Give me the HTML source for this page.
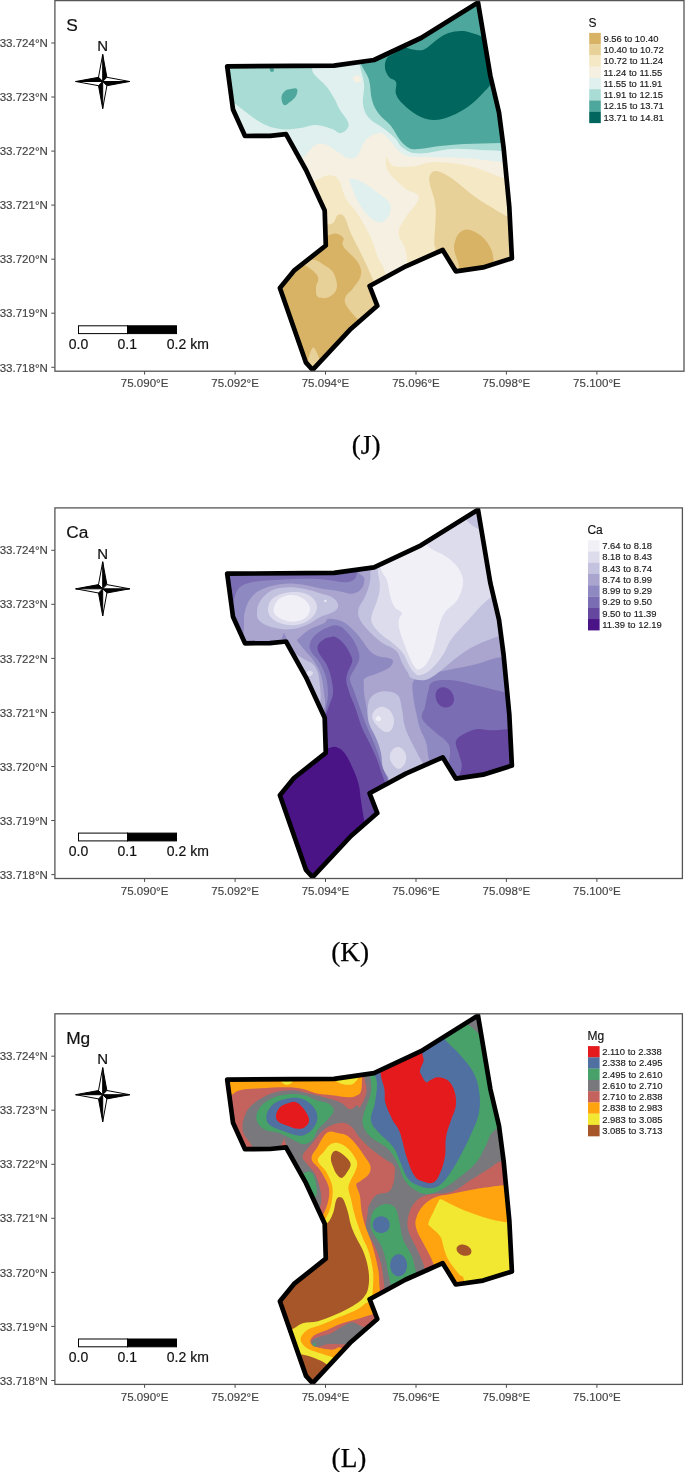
<!DOCTYPE html>
<html><head><meta charset="utf-8"><title>Maps</title>
<style>
html,body{margin:0;padding:0;background:#fff;}
svg{display:block;}
text{font-family:"Liberation Sans",sans-serif;}
.ax{font-size:11.55px;fill:#444;stroke:#444;stroke-width:0.15px;}
.tt{font-size:17.3px;fill:#111;stroke:#111;stroke-width:0.2px;}
.nn{font-size:15px;fill:#111;stroke:#111;stroke-width:0.2px;}
.sb{font-size:14px;fill:#111;stroke:#111;stroke-width:0.2px;}
.lt{font-size:12px;fill:#111;stroke:#111;stroke-width:0.15px;}
.ll{font-size:9.45px;fill:#1a1a1a;stroke:#1a1a1a;stroke-width:0.15px;}
.cap{font-family:"Liberation Serif",serif;font-size:27.3px;fill:#000;stroke:#000;stroke-width:0.25px;}
</style></head><body>
<svg width="685" height="1472" viewBox="0 0 685 1472">
<defs><clipPath id="clip"><path d="M227.2 66.4 L334.0 65.6 L374.0 60.0 L421.0 38.0 L478.0 2.4 L490.4 76.0 L499.0 112.5 L503.6 147.6 L509.3 207.0 L511.9 258.3 L483.0 267.4 L455.8 271.3 L442.7 250.0 L405.8 266.3 L369.6 286.0 L377.3 305.8 L351.0 328.7 L312.6 369.9 L306.0 362.7 L279.9 288.0 L294.0 270.7 L325.8 245.5 L324.7 210.5 L306.0 170.0 L286.0 134.2 L270.0 135.8 L245.0 136.0 L233.0 109.5Z"/></clipPath><clipPath id="pclip"><rect x="54.7" y="0.6" width="628.7" height="370.6"/></clipPath></defs>
<rect width="685" height="1472" fill="#fff"/>
<g transform="translate(0,0.0)"><g clip-path="url(#clip)"><path d="M150 -20H560V400H150Z" fill="#F5F0E2"/><path d="M296.0 159.0 C297.5 158.6 300.7 159.4 304.0 157.0 C307.3 154.6 310.3 148.4 314.0 146.0 C317.7 143.6 319.6 142.9 324.0 144.0 C328.4 145.1 333.6 149.4 338.0 152.0 C342.4 154.6 344.5 157.3 348.0 158.0 C351.5 158.7 353.6 159.5 357.0 156.0 C360.4 152.5 362.1 143.2 366.5 139.0 C370.9 134.8 376.7 132.7 381.0 133.0 C385.3 133.3 385.7 136.5 390.0 140.5 C394.3 144.5 397.6 152.0 404.6 155.0 C411.6 158.0 417.1 156.4 428.0 157.0 C438.9 157.6 450.4 157.1 464.0 158.0 C477.6 158.9 490.8 160.9 502.0 162.0 C513.2 163.1 520.8 163.6 525.0 164.0 L540.0 -20.0 L180.0 -20.0 L180.0 159.0Z" fill="#E0F0EE"/><path d="M353.0 78.0 C353.4 76.7 355.5 75.0 357.0 75.0 C358.5 75.0 360.4 76.7 361.0 78.0 C361.6 79.3 361.1 81.3 360.0 82.0 C358.9 82.7 356.3 82.7 355.0 82.0 C353.7 81.3 352.6 79.3 353.0 78.0Z" fill="#F5F0E2"/><path d="M350.0 178.8 C351.8 177.8 356.6 179.2 362.0 182.0 C367.4 184.8 374.5 190.2 379.5 194.0 C384.5 197.8 387.3 199.6 389.3 202.8 C391.3 206.0 391.2 208.4 390.4 211.6 C389.6 214.8 387.6 218.6 385.0 220.4 C382.4 222.2 379.4 222.7 376.0 221.5 C372.6 220.3 369.7 217.6 366.3 213.8 C362.9 210.0 360.2 205.5 357.6 200.7 C355.0 195.9 353.4 191.5 352.0 187.5 C350.6 183.5 348.2 179.8 350.0 178.8Z" fill="#E0F0EE"/><path d="M225.0 97.0 C226.7 98.1 227.6 98.4 234.0 103.0 C240.4 107.6 251.6 117.2 260.0 122.0 C268.4 126.8 272.7 127.9 280.0 129.0 C287.3 130.1 293.4 128.7 300.0 128.0 C306.6 127.3 310.1 124.8 316.0 125.0 C321.9 125.2 327.6 127.5 332.0 129.0 C336.4 130.5 337.2 133.0 340.0 133.0 C342.8 133.0 345.5 131.0 347.0 129.0 C348.5 127.0 349.3 125.5 348.0 122.0 C346.7 118.5 342.6 114.4 340.0 110.0 C337.4 105.6 336.6 102.4 334.0 98.0 C331.4 93.6 329.7 90.4 326.0 86.0 C322.3 81.6 316.6 77.7 314.0 74.0 C311.4 70.3 312.6 69.5 312.0 66.0 C311.4 62.5 311.2 57.0 311.0 55.0 L180.0 40.0 L180.0 97.0Z" fill="#A8DCD5"/><path d="M358.0 55.0 C358.2 56.5 357.9 57.7 359.0 63.0 C360.1 68.3 363.3 76.5 364.0 84.0 C364.7 91.5 362.1 97.8 363.0 104.0 C363.9 110.2 365.3 113.6 369.0 118.0 C372.7 122.4 378.2 124.3 383.0 128.0 C387.8 131.7 391.3 134.3 395.0 138.0 C398.7 141.7 398.6 145.2 403.0 148.0 C407.4 150.8 410.0 153.3 419.0 153.5 C428.0 153.7 440.6 149.6 452.0 149.0 C463.4 148.4 472.0 149.6 481.0 150.0 C490.0 150.4 492.9 150.6 501.0 151.0 C509.1 151.4 520.6 151.8 525.0 152.0 L540.0 -20.0 L358.0 -20.0Z" fill="#A8DCD5"/><path d="M360.0 55.0 C360.2 56.6 359.4 59.4 361.0 64.0 C362.6 68.6 367.0 73.4 369.0 80.0 C371.0 86.6 370.2 93.8 372.0 100.0 C373.8 106.2 375.5 109.2 379.0 114.0 C382.5 118.8 387.1 121.2 391.0 126.0 C394.9 130.8 396.7 136.0 400.0 140.0 C403.3 144.0 405.5 146.3 409.0 148.0 C412.5 149.7 413.3 149.4 419.0 149.0 C424.7 148.6 431.8 146.9 440.0 146.0 C448.2 145.1 453.0 144.6 464.0 144.0 C475.0 143.4 488.8 143.4 500.0 143.0 C511.2 142.6 520.4 142.2 525.0 142.0 L540.0 -20.0 L360.0 -20.0Z" fill="#4EA79D"/><path d="M297.0 89.0 C297.9 90.3 297.3 93.6 296.0 96.0 C294.7 98.4 292.2 100.3 290.0 102.0 C287.8 103.7 285.6 105.9 284.0 105.0 C282.4 104.1 281.3 99.6 281.5 97.0 C281.7 94.4 283.3 92.5 285.0 91.0 C286.7 89.5 288.8 89.4 291.0 89.0 C293.2 88.6 296.1 87.7 297.0 89.0Z" fill="#4EA79D"/><path d="M270.0 68.0 C270.6 67.4 272.9 67.4 273.5 68.0 C274.1 68.6 274.1 70.9 273.5 71.5 C272.9 72.1 271.1 72.1 270.5 71.5 C269.9 70.9 269.4 68.6 270.0 68.0Z" fill="#4EA79D"/><path d="M395.0 53.0 C392.0 54.9 388.8 55.2 387.0 58.0 C385.2 60.8 384.6 64.5 385.0 68.0 C385.4 71.5 387.0 74.4 389.0 77.0 C391.0 79.6 394.7 78.9 396.0 82.0 C397.3 85.1 394.7 90.0 396.0 94.0 C397.3 98.0 399.1 100.2 403.0 104.0 C406.9 107.8 411.5 112.1 417.0 115.0 C422.5 117.9 426.8 119.8 433.0 120.0 C439.2 120.2 444.4 118.6 451.0 116.0 C457.6 113.4 463.1 110.2 469.0 106.0 C474.9 101.8 479.0 97.4 483.0 93.0 C487.0 88.6 489.2 88.0 491.0 82.0 C492.8 76.0 493.9 67.7 493.0 60.0 C492.1 52.3 490.2 45.1 486.0 40.0 C481.8 34.9 475.2 34.0 470.0 32.4 C464.8 30.8 462.3 30.9 457.8 31.2 C453.3 31.5 449.7 32.4 445.5 34.2 C441.3 36.0 438.5 38.6 435.0 41.2 C431.5 43.8 429.2 46.5 426.3 48.2 C423.4 49.9 422.2 50.2 419.3 50.3 C416.4 50.4 413.4 49.5 410.5 49.0 C407.6 48.5 406.3 46.8 403.5 47.5 C400.7 48.2 398.0 51.1 395.0 53.0Z" fill="#01665E"/><path d="M305.0 186.0 C306.6 185.3 310.0 183.9 314.0 182.0 C318.0 180.1 322.6 176.1 327.0 175.5 C331.4 174.9 334.5 174.8 338.0 179.0 C341.5 183.2 342.4 192.1 346.0 198.5 C349.6 204.9 353.0 206.6 357.6 213.8 C362.2 221.0 367.3 230.0 371.0 238.0 C374.7 246.0 375.8 252.4 378.0 257.6 C380.2 262.8 381.2 262.0 383.0 266.5 C384.8 271.0 387.1 279.2 388.0 282.0 L388.0 400.0 L200.0 400.0 L200.0 186.0Z" fill="#F5E8C5"/><path d="M407.0 300.0 C407.0 293.0 407.4 271.6 407.0 262.0 C406.6 252.4 406.1 252.8 404.6 247.5 C403.1 242.2 398.6 238.2 398.6 233.0 C398.6 227.8 400.9 225.5 404.6 219.0 C408.3 212.5 419.0 203.3 419.0 197.6 C419.0 191.9 410.3 192.9 404.6 188.0 C398.9 183.1 391.3 176.7 388.0 171.0 C384.7 165.3 385.8 158.0 386.7 157.0 C387.6 156.0 388.1 163.7 392.7 165.5 C397.3 167.3 403.9 167.2 411.7 166.6 C419.5 166.0 424.6 162.0 435.5 162.0 C446.4 162.0 458.4 163.6 471.0 166.6 C483.6 169.6 493.7 174.9 504.5 178.5 C515.3 182.1 525.3 184.6 530.0 186.0 L530.0 300.0Z" fill="#F5E8C5"/><path d="M435.0 300.0 C435.1 291.0 435.6 261.5 435.5 251.0 C435.4 240.5 434.3 250.9 434.3 242.8 C434.3 234.7 436.4 218.0 435.5 207.0 C434.6 196.0 430.5 189.1 429.6 183.0 C428.7 176.9 429.3 175.9 430.8 173.8 C432.3 171.7 434.1 170.5 438.0 171.4 C441.9 172.3 445.0 173.7 452.0 178.5 C459.0 183.3 468.1 191.9 476.0 197.6 C483.9 203.3 489.1 206.0 495.0 209.5 C500.9 213.0 501.6 213.9 508.0 216.6 C514.4 219.3 526.0 222.6 530.0 224.0 L530.0 300.0Z" fill="#E8D199"/><path d="M318.0 228.0 C319.7 227.4 324.6 225.7 327.4 224.7 C330.2 223.7 331.6 224.3 333.5 222.5 C335.4 220.7 335.9 215.9 337.9 214.9 C339.9 213.9 342.0 213.6 344.4 217.0 C346.8 220.4 347.8 226.5 351.0 233.5 C354.2 240.5 358.0 247.0 362.0 255.4 C366.0 263.8 370.0 272.2 372.9 279.5 C375.8 286.8 377.1 292.2 378.0 295.0 L400.0 400.0 L200.0 400.0 L200.0 228.0Z" fill="#E8D199"/><path d="M460.0 290.0 C459.8 285.7 460.0 273.6 459.0 266.6 C458.0 259.6 455.4 256.4 454.6 252.0 C453.8 247.6 453.7 246.3 454.6 242.8 C455.5 239.3 456.7 235.4 459.3 233.0 C461.9 230.6 464.9 229.2 468.8 229.7 C472.7 230.2 476.8 232.3 480.7 235.6 C484.6 238.9 487.9 242.7 490.3 247.5 C492.7 252.3 492.9 254.0 493.8 261.8 C494.7 269.6 494.8 284.8 495.0 290.0Z" fill="#D8B365"/><path d="M318.0 238.0 C319.7 237.6 324.2 236.5 327.4 235.7 C330.6 234.9 332.8 233.1 335.7 233.5 C338.6 233.9 342.0 235.5 343.4 237.9 C344.8 240.3 340.8 242.2 343.4 246.6 C346.0 251.0 354.4 256.8 357.6 262.0 C360.8 267.2 361.7 270.2 360.9 275.0 C360.1 279.8 356.0 284.0 353.2 288.0 C350.4 292.0 346.7 293.7 345.5 297.0 C344.3 300.3 344.4 301.8 346.6 305.8 C348.8 309.8 353.3 314.8 357.6 318.9 C361.9 323.0 367.7 326.3 370.0 328.0 L370.0 400.0 L200.0 400.0 L200.0 238.0Z" fill="#D8B365"/><path d="M300.0 262.0 C300.8 260.5 309.4 259.2 313.8 259.8 C318.2 260.4 320.4 262.6 324.0 265.0 C327.6 267.4 331.2 268.8 333.5 273.0 C335.8 277.2 337.6 283.6 336.8 288.0 C336.0 292.4 332.4 295.4 329.0 297.0 C325.6 298.6 320.4 298.6 318.0 297.0 C315.6 295.4 316.0 291.7 316.0 288.0 C316.0 284.3 319.2 280.7 318.0 277.0 C316.8 273.3 312.7 270.8 309.4 268.0 C306.1 265.2 299.2 263.5 300.0 262.0Z" fill="#E8D199"/><path d="M308.5 361.0 C307.9 358.2 309.6 354.5 310.5 352.0 C311.4 349.5 312.4 347.5 313.5 347.5 C314.6 347.5 315.5 349.7 316.5 352.0 C317.5 354.3 319.5 357.2 319.0 360.0 C318.5 362.8 315.9 366.8 314.0 367.0 C312.1 367.2 309.1 363.8 308.5 361.0Z" fill="#E8D199"/></g><path d="M227.2 66.4 L334.0 65.6 L374.0 60.0 L421.0 38.0 L478.0 2.4 L490.4 76.0 L499.0 112.5 L503.6 147.6 L509.3 207.0 L511.9 258.3 L483.0 267.4 L455.8 271.3 L442.7 250.0 L405.8 266.3 L369.6 286.0 L377.3 305.8 L351.0 328.7 L312.6 369.9 L306.0 362.7 L279.9 288.0 L294.0 270.7 L325.8 245.5 L324.7 210.5 L306.0 170.0 L286.0 134.2 L270.0 135.8 L245.0 136.0 L233.0 109.5Z" fill="none" stroke="#000" stroke-width="4.7" stroke-linejoin="round" clip-path="url(#pclip)"/><rect x="54.9" y="0.6" width="629.1" height="370.6" fill="none" stroke="#555" stroke-width="1.3"/><line x1="51.3" x2="54.7" y1="43.0" y2="43.0" stroke="#4a4a4a" stroke-width="1"/><text x="47.9" y="47.2" text-anchor="end" class="ax">33.724°N</text><line x1="51.3" x2="54.7" y1="97.0" y2="97.0" stroke="#4a4a4a" stroke-width="1"/><text x="47.9" y="101.2" text-anchor="end" class="ax">33.723°N</text><line x1="51.3" x2="54.7" y1="151.1" y2="151.1" stroke="#4a4a4a" stroke-width="1"/><text x="47.9" y="155.3" text-anchor="end" class="ax">33.722°N</text><line x1="51.3" x2="54.7" y1="205.1" y2="205.1" stroke="#4a4a4a" stroke-width="1"/><text x="47.9" y="209.3" text-anchor="end" class="ax">33.721°N</text><line x1="51.3" x2="54.7" y1="259.2" y2="259.2" stroke="#4a4a4a" stroke-width="1"/><text x="47.9" y="263.4" text-anchor="end" class="ax">33.720°N</text><line x1="51.3" x2="54.7" y1="313.2" y2="313.2" stroke="#4a4a4a" stroke-width="1"/><text x="47.9" y="317.4" text-anchor="end" class="ax">33.719°N</text><line x1="51.3" x2="54.7" y1="367.3" y2="367.3" stroke="#4a4a4a" stroke-width="1"/><text x="47.9" y="371.5" text-anchor="end" class="ax">33.718°N</text><line x1="144.6" x2="144.6" y1="371.2" y2="374.6" stroke="#4a4a4a" stroke-width="1"/><text x="144.6" y="387.4" text-anchor="middle" class="ax">75.090°E</text><line x1="235.1" x2="235.1" y1="371.2" y2="374.6" stroke="#4a4a4a" stroke-width="1"/><text x="235.1" y="387.4" text-anchor="middle" class="ax">75.092°E</text><line x1="325.5" x2="325.5" y1="371.2" y2="374.6" stroke="#4a4a4a" stroke-width="1"/><text x="325.5" y="387.4" text-anchor="middle" class="ax">75.094°E</text><line x1="416.0" x2="416.0" y1="371.2" y2="374.6" stroke="#4a4a4a" stroke-width="1"/><text x="416.0" y="387.4" text-anchor="middle" class="ax">75.096°E</text><line x1="506.4" x2="506.4" y1="371.2" y2="374.6" stroke="#4a4a4a" stroke-width="1"/><text x="506.4" y="387.4" text-anchor="middle" class="ax">75.098°E</text><line x1="596.9" x2="596.9" y1="371.2" y2="374.6" stroke="#4a4a4a" stroke-width="1"/><text x="596.9" y="387.4" text-anchor="middle" class="ax">75.100°E</text><text x="66.2" y="30.6" class="tt">S</text><text x="102.7" y="51.3" text-anchor="middle" class="nn">N</text><path d="M102.70 81.50 L102.70 54.50 L106.90 77.30 Z" fill="#000" stroke="#000" stroke-width="1.0" stroke-linejoin="miter"/><path d="M102.70 81.50 L102.70 54.50 L98.50 77.30 Z" fill="#fff" stroke="#000" stroke-width="1.0" stroke-linejoin="miter"/><path d="M102.70 81.50 L129.70 81.50 L106.90 85.70 Z" fill="#000" stroke="#000" stroke-width="1.0" stroke-linejoin="miter"/><path d="M102.70 81.50 L129.70 81.50 L106.90 77.30 Z" fill="#fff" stroke="#000" stroke-width="1.0" stroke-linejoin="miter"/><path d="M102.70 81.50 L102.70 108.50 L98.50 85.70 Z" fill="#000" stroke="#000" stroke-width="1.0" stroke-linejoin="miter"/><path d="M102.70 81.50 L102.70 108.50 L106.90 85.70 Z" fill="#fff" stroke="#000" stroke-width="1.0" stroke-linejoin="miter"/><path d="M102.70 81.50 L75.70 81.50 L98.50 77.30 Z" fill="#000" stroke="#000" stroke-width="1.0" stroke-linejoin="miter"/><path d="M102.70 81.50 L75.70 81.50 L98.50 85.70 Z" fill="#fff" stroke="#000" stroke-width="1.0" stroke-linejoin="miter"/><rect x="78.5" y="325.8" width="49" height="7.8" fill="#fff" stroke="#000" stroke-width="1"/><rect x="127.5" y="325.8" width="49" height="7.8" fill="#000" stroke="#000" stroke-width="1"/><text x="78.5" y="348.6" text-anchor="middle" class="sb">0.0</text><text x="127.2" y="348.6" text-anchor="middle" class="sb">0.1</text><text x="166.8" y="348.6" class="sb">0.2 km</text><text x="588.6" y="27" class="lt">S</text><rect x="589.2" y="32.90" width="11.6" height="11.4" fill="#D8B365"/><text x="603.4" y="41.90" class="ll">9.56 to 10.40</text><rect x="589.2" y="44.16" width="11.6" height="11.4" fill="#E8D199"/><text x="603.4" y="53.16" class="ll">10.40 to 10.72</text><rect x="589.2" y="55.42" width="11.6" height="11.4" fill="#F5E8C5"/><text x="603.4" y="64.42" class="ll">10.72 to 11.24</text><rect x="589.2" y="66.68" width="11.6" height="11.4" fill="#F5F0E2"/><text x="603.4" y="75.68" class="ll">11.24 to 11.55</text><rect x="589.2" y="77.94" width="11.6" height="11.4" fill="#E0F0EE"/><text x="603.4" y="86.94" class="ll">11.55 to 11.91</text><rect x="589.2" y="89.20" width="11.6" height="11.4" fill="#A8DCD5"/><text x="603.4" y="98.20" class="ll">11.91 to 12.15</text><rect x="589.2" y="100.46" width="11.6" height="11.4" fill="#4EA79D"/><text x="603.4" y="109.46" class="ll">12.15 to 13.71</text><rect x="589.2" y="111.72" width="11.6" height="11.4" fill="#01665E"/><text x="603.4" y="120.72" class="ll">13.71 to 14.81</text><text x="351.7" y="453.6" class="cap">(J)</text></g>
<g transform="translate(0,507.3)"><g clip-path="url(#clip)"><path d="M150 -20H560V400H150Z" fill="#8F89C1"/><path d="M246.0 142.0 C241.6 136.5 244.2 123.0 244.0 116.0 C243.8 109.0 243.9 108.4 245.0 104.0 C246.1 99.6 247.2 95.8 250.0 92.0 C252.8 88.2 254.5 85.8 260.0 83.0 C265.5 80.2 272.7 78.1 280.0 77.0 C287.3 75.9 292.7 76.3 300.0 77.0 C307.3 77.7 312.9 79.7 320.0 81.0 C327.1 82.3 333.1 83.0 339.0 84.0 C344.9 85.0 348.0 86.9 352.0 86.5 C356.0 86.1 358.7 84.7 361.0 82.0 C363.3 79.3 363.8 77.9 364.5 72.0 C365.2 66.1 349.3 68.7 365.0 50.0 C380.7 31.3 417.0 -17.2 450.0 -30.0 C483.0 -42.8 527.6 -53.0 545.0 -20.0 C562.4 13.0 552.9 118.8 545.0 150.0 C537.1 181.2 514.6 148.7 502.0 150.0 C489.4 151.3 485.2 154.8 476.0 157.0 C466.8 159.2 460.8 160.2 452.0 162.0 C443.2 163.8 435.0 165.0 428.0 167.0 C421.0 169.0 416.8 169.2 414.0 173.0 C411.2 176.8 412.5 181.4 413.0 187.6 C413.5 193.8 415.2 200.5 416.5 206.6 C417.8 212.7 418.3 215.8 420.0 221.0 C421.7 226.2 424.5 229.8 426.0 235.0 C427.5 240.2 427.5 243.1 428.4 249.5 C429.3 255.9 434.4 263.5 431.0 270.0 C427.6 276.5 417.0 282.8 410.0 285.0 C403.0 287.2 396.6 285.0 393.0 282.0 C389.4 279.0 392.1 273.4 390.4 268.5 C388.7 263.6 386.1 261.4 383.9 255.4 C381.7 249.4 380.8 242.6 378.4 235.7 C376.0 228.8 373.2 226.0 370.7 218.0 C368.2 210.0 366.3 199.5 365.0 192.0 C363.7 184.5 363.8 180.8 363.8 177.0 C363.8 173.2 362.9 172.9 365.0 171.0 C367.1 169.1 371.2 168.6 375.5 166.8 C379.8 165.0 385.4 163.3 388.6 161.0 C391.8 158.7 393.0 155.9 393.0 154.0 C393.0 152.1 391.3 151.6 388.6 150.7 C385.9 149.8 381.9 150.3 378.4 149.0 C374.9 147.7 372.8 146.6 369.6 143.4 C366.4 140.2 364.2 135.7 361.0 131.7 C357.8 127.7 355.5 124.7 352.0 121.5 C348.5 118.3 346.3 115.8 342.0 114.0 C337.7 112.2 332.1 111.1 328.8 111.5 C325.5 111.9 327.4 114.1 324.0 116.0 C320.6 117.9 314.4 119.4 310.0 122.0 C305.6 124.6 302.8 127.6 300.0 130.0 C297.2 132.4 296.8 132.8 295.0 135.0 C293.2 137.2 294.9 140.0 290.0 142.0 C285.1 144.0 276.1 146.0 268.0 146.0 C259.9 146.0 250.4 147.5 246.0 142.0Z" fill="#A9A5CF"/><path d="M279.0 138.0 L284.0 125.5 L289.0 137.0Z" fill="#8F89C1"/><path d="M296.0 132.0 C297.5 133.8 300.7 138.0 304.0 142.0 C307.3 146.0 310.9 149.2 314.0 154.0 C317.1 158.8 319.2 162.1 321.0 168.0 C322.8 173.9 323.3 180.5 324.0 186.0 C324.7 191.5 325.4 194.0 325.0 198.0 C324.6 202.0 322.6 206.2 322.0 208.0 L280.0 208.0 L280.0 132.0Z" fill="#A9A5CF"/><path d="M257.0 106.0 C257.0 102.3 257.2 98.2 260.0 94.0 C262.8 89.8 266.5 85.6 272.0 83.0 C277.5 80.4 283.8 80.2 290.0 80.0 C296.2 79.8 300.5 80.9 306.0 82.0 C311.5 83.1 315.2 84.5 320.0 86.0 C324.8 87.5 328.7 88.0 332.0 90.0 C335.3 92.0 337.5 94.4 338.0 97.0 C338.5 99.6 337.9 101.6 334.6 104.0 C331.3 106.4 325.2 107.4 320.0 110.0 C314.8 112.6 311.5 115.8 306.0 118.0 C300.5 120.2 296.2 121.6 290.0 122.0 C283.8 122.4 277.5 121.5 272.0 120.0 C266.5 118.5 262.8 116.6 260.0 114.0 C257.2 111.4 257.0 109.7 257.0 106.0Z" fill="#C3C3E0"/><path d="M370.4 50.0 C370.4 52.6 370.5 59.2 370.4 64.0 C370.3 68.8 370.6 71.3 369.6 76.0 C368.6 80.7 367.0 84.8 365.0 89.4 C363.0 94.0 359.7 97.0 358.7 101.0 C357.7 105.0 357.7 107.0 359.4 111.0 C361.1 115.0 364.0 118.7 368.0 123.0 C372.0 127.3 375.9 131.0 381.0 134.7 C386.1 138.4 392.2 139.7 396.0 143.4 C399.8 147.1 399.7 151.0 401.8 155.0 C403.9 159.0 405.7 162.1 407.6 165.0 C409.5 167.9 408.6 169.6 412.0 171.0 C415.4 172.4 420.9 173.8 426.0 172.5 C431.1 171.2 434.3 168.1 440.0 164.0 C445.7 159.9 450.4 154.8 457.0 150.0 C463.6 145.2 468.1 141.9 476.0 138.0 C483.9 134.1 491.0 131.8 500.0 128.5 C509.0 125.2 520.4 121.6 525.0 120.0 L545.0 -20.0 L370.0 -20.0Z" fill="#C3C3E0"/><path d="M367.7 202.0 C368.1 197.2 368.2 193.3 371.0 190.0 C373.8 186.7 378.1 184.4 383.0 184.0 C387.9 183.6 394.0 184.3 397.5 187.6 C401.0 190.9 400.7 196.3 402.0 202.0 C403.3 207.7 403.0 212.8 404.6 218.5 C406.2 224.2 408.1 227.8 410.5 233.0 C412.9 238.2 415.0 240.9 417.7 247.0 C420.4 253.1 427.3 259.6 425.0 266.0 C422.7 272.4 411.4 279.8 405.0 282.0 C398.6 284.2 393.1 280.3 390.0 278.0 C386.9 275.7 389.3 272.7 388.0 269.7 C386.7 266.7 384.3 266.0 383.0 261.4 C381.7 256.8 382.1 250.4 380.8 244.7 C379.5 239.0 378.2 235.8 376.0 230.5 C373.8 225.2 370.5 221.2 369.0 216.0 C367.5 210.8 367.3 206.8 367.7 202.0Z" fill="#C3C3E0"/><path d="M296.0 147.0 C297.8 148.1 302.9 151.2 306.0 153.0 C309.1 154.8 310.8 154.6 313.0 157.0 C315.2 159.4 316.7 161.8 318.0 166.0 C319.3 170.2 319.5 175.1 320.0 180.0 C320.5 184.9 320.9 188.6 320.5 193.0 C320.1 197.4 318.5 202.0 318.0 204.0 L290.0 204.0 L290.0 147.0Z" fill="#C3C3E0"/><path d="M268.0 102.0 C268.0 98.5 269.1 94.9 272.0 92.0 C274.9 89.1 278.9 87.3 284.0 86.0 C289.1 84.7 294.9 84.3 300.0 85.0 C305.1 85.7 308.9 87.2 312.0 90.0 C315.1 92.8 317.0 96.3 317.0 100.0 C317.0 103.7 315.1 106.9 312.0 110.0 C308.9 113.1 305.1 115.7 300.0 117.0 C294.9 118.3 289.1 118.1 284.0 117.0 C278.9 115.9 274.9 113.8 272.0 111.0 C269.1 108.2 268.0 105.5 268.0 102.0Z" fill="#DDDCEC"/><path d="M377.7 45.0 C377.7 48.3 377.3 56.8 377.7 63.0 C378.1 69.2 380.0 73.4 379.9 79.0 C379.8 84.6 378.5 88.5 377.0 93.8 C375.5 99.1 372.6 103.7 371.8 108.0 C371.0 112.3 370.9 113.5 372.6 117.0 C374.3 120.5 377.3 123.5 381.0 127.0 C384.7 130.5 389.0 132.5 393.0 136.0 C397.0 139.5 400.1 142.0 403.0 146.0 C405.9 150.0 407.0 154.5 409.0 158.0 C411.0 161.5 412.0 163.2 414.0 165.0 C416.0 166.8 416.9 168.6 420.0 168.0 C423.1 167.4 426.8 165.8 431.0 162.0 C435.2 158.2 439.1 153.2 443.0 147.5 C446.9 141.8 447.2 137.5 452.0 131.0 C456.8 124.5 462.6 119.0 469.0 112.0 C475.4 105.0 480.8 98.1 487.0 93.0 C493.2 87.9 500.1 85.7 503.0 84.0 L496.0 40.0 L483.0 24.5 L471.0 17.5 L462.0 8.0 L420.0 15.0 L377.7 30.0Z" fill="#DDDCEC"/><path d="M372.5 211.4 C371.4 207.9 372.9 205.2 374.8 203.0 C376.7 200.8 379.9 199.1 383.0 199.5 C386.1 199.9 389.5 202.4 391.5 205.4 C393.5 208.4 394.4 212.5 393.9 216.0 C393.4 219.5 391.4 223.4 389.0 224.5 C386.6 225.6 383.8 224.4 380.8 222.0 C377.8 219.6 373.6 214.9 372.5 211.4Z" fill="#DDDCEC"/><path d="M390.0 251.8 C389.1 248.3 390.9 244.5 392.7 242.3 C394.5 240.1 397.4 239.1 399.8 240.0 C402.2 240.9 404.9 244.0 405.8 247.0 C406.7 250.0 406.1 254.0 404.6 256.6 C403.1 259.2 400.2 262.3 397.5 261.4 C394.8 260.5 390.9 255.3 390.0 251.8Z" fill="#DDDCEC"/><path d="M306.0 166.0 C306.4 165.0 307.7 163.7 309.0 163.5 C310.3 163.3 312.6 164.1 313.0 165.0 C313.4 165.9 312.1 167.8 311.0 168.5 C309.9 169.2 307.9 169.5 307.0 169.0 C306.1 168.5 305.6 167.0 306.0 166.0Z" fill="#DDDCEC"/><path d="M274.0 100.0 C274.9 97.1 276.7 93.3 280.0 91.0 C283.3 88.7 287.6 87.4 292.0 87.6 C296.4 87.8 300.7 89.5 304.0 92.0 C307.3 94.5 309.6 97.7 310.0 101.0 C310.4 104.3 308.9 107.5 306.0 110.0 C303.1 112.5 298.4 114.0 294.0 114.4 C289.6 114.8 285.5 113.4 282.0 112.0 C278.5 110.6 276.5 109.2 275.0 107.0 C273.5 104.8 273.1 102.9 274.0 100.0Z" fill="#F2F0F7"/><path d="M380.5 48.0 C380.6 50.6 379.8 57.4 381.0 62.0 C382.2 66.6 385.4 68.2 387.0 73.0 C388.6 77.8 388.6 83.1 390.0 88.0 C391.4 92.9 392.3 96.4 394.5 99.6 C396.7 102.8 401.0 103.1 401.8 105.5 C402.6 107.9 399.2 109.6 398.8 112.8 C398.4 116.0 398.5 118.5 399.6 123.0 C400.7 127.5 402.7 132.3 404.7 137.6 C406.7 142.9 408.6 147.9 410.5 152.0 C412.4 156.1 413.4 158.2 415.0 160.0 C416.6 161.8 417.0 162.6 419.0 162.0 C421.0 161.4 423.4 160.5 426.0 157.0 C428.6 153.5 430.6 150.0 433.0 143.0 C435.4 136.0 436.8 126.0 439.0 119.0 C441.2 112.0 441.7 109.8 445.0 105.0 C448.3 100.2 453.7 98.3 457.0 93.0 C460.3 87.7 462.6 81.7 463.0 76.0 C463.4 70.3 461.9 66.8 459.0 62.0 C456.1 57.2 452.7 54.2 447.0 50.0 C441.3 45.8 431.9 43.0 428.0 39.0 C424.1 35.0 426.4 30.0 426.0 28.0 L400.0 33.0Z" fill="#F2F0F7"/><path d="M375.6 211.4 C375.6 210.4 377.4 208.8 378.4 208.8 C379.4 208.8 381.2 210.4 381.2 211.4 C381.2 212.4 379.4 214.0 378.4 214.0 C377.4 214.0 375.6 212.4 375.6 211.4Z" fill="#F2F0F7"/><path d="M324.2 93.6 C324.2 93.2 325.0 92.4 325.4 92.4 C325.8 92.4 326.6 93.2 326.6 93.6 C326.6 94.0 325.8 94.8 325.4 94.8 C325.0 94.8 324.2 94.0 324.2 93.6Z" fill="#F2F0F7"/><path d="M220.0 102.0 C222.0 101.6 227.7 103.7 231.0 100.0 C234.3 96.3 234.2 86.6 238.0 82.0 C241.8 77.4 244.3 76.7 252.0 75.0 C259.7 73.3 269.4 73.1 280.0 72.5 C290.6 71.9 300.8 71.4 310.0 71.5 C319.2 71.6 323.8 72.4 330.0 73.0 C336.2 73.6 339.7 75.1 344.0 75.0 C348.3 74.9 351.2 74.2 353.6 72.6 C356.0 70.9 356.2 69.4 357.0 66.0 C357.8 62.6 357.8 56.2 358.0 54.0 L220.0 54.0Z" fill="#7A6DB3"/><path d="M318.0 222.0 C319.2 219.2 322.9 211.4 324.5 207.0 C326.1 202.6 325.9 201.8 326.5 198.0 C327.1 194.2 328.1 191.1 328.0 186.0 C327.9 180.9 327.5 175.5 326.0 170.0 C324.5 164.5 322.8 160.8 320.0 156.0 C317.2 151.2 312.8 147.7 311.0 144.0 C309.2 140.3 309.1 139.1 310.0 136.0 C310.9 132.9 312.7 129.9 316.0 127.0 C319.3 124.1 323.8 121.5 328.0 120.0 C332.2 118.5 335.1 117.3 339.0 118.6 C342.9 119.9 345.8 123.3 349.0 127.0 C352.2 130.7 354.6 134.7 356.5 139.0 C358.4 143.3 359.7 146.7 359.4 150.7 C359.1 154.7 356.7 157.3 355.0 161.0 C353.3 164.7 350.4 167.3 350.0 171.0 C349.6 174.7 351.7 177.2 353.0 181.0 C354.3 184.8 354.6 185.2 357.0 192.0 C359.4 198.8 363.0 209.6 366.3 218.0 C369.6 226.4 372.2 230.7 375.0 238.0 C377.8 245.3 379.5 251.6 381.7 257.6 C383.9 263.6 385.1 264.8 387.0 270.7 C388.9 276.6 391.1 286.5 392.0 290.0 L392.0 400.0 L200.0 400.0 L200.0 222.0Z" fill="#7A6DB3"/><path d="M433.0 174.5 C437.4 172.3 444.1 172.4 452.0 173.0 C459.9 173.6 466.4 175.8 476.0 178.0 C485.6 180.2 494.6 182.8 504.5 185.0 C514.4 187.2 525.3 168.9 530.0 190.0 C534.7 211.1 546.5 279.8 530.0 300.0 C513.5 320.2 455.2 306.6 440.0 300.0 C424.8 293.4 445.2 274.1 447.0 264.0 C448.8 253.9 450.0 250.3 450.0 245.0 C450.0 239.7 450.1 239.0 447.0 235.0 C443.9 231.0 437.6 227.4 433.0 223.0 C428.4 218.6 423.5 215.3 422.0 211.0 C420.5 206.7 423.9 204.3 425.0 199.5 C426.1 194.7 426.5 189.6 428.0 185.0 C429.5 180.4 428.6 176.7 433.0 174.5Z" fill="#7A6DB3"/><path d="M316.0 226.0 C317.6 223.0 322.3 214.4 324.7 209.4 C327.1 204.4 327.5 202.8 329.0 198.5 C330.5 194.2 332.6 191.2 333.0 186.0 C333.4 180.8 332.2 175.3 331.0 170.0 C329.8 164.7 328.7 161.4 326.5 157.0 C324.3 152.6 320.6 149.5 319.0 146.0 C317.4 142.5 317.1 140.6 318.0 138.0 C318.9 135.4 321.8 133.5 324.0 132.0 C326.2 130.5 327.8 130.4 330.0 130.0 C332.2 129.6 333.3 128.6 336.0 130.0 C338.7 131.4 342.1 134.3 344.8 137.6 C347.5 140.9 349.4 144.6 350.7 147.8 C352.0 151.0 352.6 151.8 352.0 155.0 C351.4 158.2 348.7 161.5 347.7 165.0 C346.7 168.5 346.1 170.5 346.3 174.0 C346.5 177.5 348.1 181.1 349.0 184.0 C349.9 186.9 349.8 186.9 351.0 190.0 C352.2 193.1 353.4 195.1 355.4 200.7 C357.4 206.3 359.4 214.0 362.0 220.4 C364.6 226.8 366.8 229.7 369.6 235.7 C372.4 241.7 375.1 247.4 377.3 253.0 C379.5 258.6 379.9 261.4 381.7 266.3 C383.5 271.2 386.0 277.5 387.0 280.0 L387.0 400.0 L200.0 400.0 L200.0 226.0Z" fill="#66479F"/><path d="M455.8 235.0 C456.3 231.5 458.0 230.4 461.7 228.0 C465.4 225.6 470.8 222.9 476.0 222.0 C481.2 221.1 483.9 223.0 490.0 223.0 C496.1 223.0 501.7 222.4 509.0 222.0 C516.3 221.6 526.1 206.7 530.0 221.0 C533.9 235.3 543.8 285.5 530.0 300.0 C516.2 314.5 468.2 304.8 455.0 300.0 C441.8 295.2 456.8 281.5 458.0 274.0 C459.2 266.5 461.5 263.9 461.7 259.0 C461.9 254.1 460.1 251.4 459.0 247.0 C457.9 242.6 455.3 238.5 455.8 235.0Z" fill="#66479F"/><path d="M435.5 188.0 C435.5 185.4 436.4 183.5 438.0 182.0 C439.6 180.5 441.6 179.6 444.0 180.0 C446.4 180.4 449.2 181.8 451.0 184.0 C452.8 186.2 454.0 189.3 454.0 192.0 C454.0 194.7 452.8 197.0 451.0 198.5 C449.2 200.0 446.4 200.5 444.0 200.0 C441.6 199.5 439.6 198.2 438.0 196.0 C436.4 193.8 435.5 190.6 435.5 188.0Z" fill="#66479F"/><path d="M318.0 243.0 C319.7 242.6 324.2 241.6 327.4 241.0 C330.6 240.4 332.6 238.8 335.7 239.6 C338.8 240.4 341.2 241.4 344.4 245.5 C347.6 249.6 350.6 256.2 353.2 262.0 C355.8 267.8 357.3 271.7 358.7 277.3 C360.1 282.9 359.9 286.2 360.9 292.6 C361.9 299.0 362.9 306.2 364.0 312.0 C365.1 317.8 366.4 321.8 367.0 324.0 L367.0 400.0 L200.0 400.0 L200.0 243.0Z" fill="#4A1486"/></g><path d="M227.2 66.4 L334.0 65.6 L374.0 60.0 L421.0 38.0 L478.0 2.4 L490.4 76.0 L499.0 112.5 L503.6 147.6 L509.3 207.0 L511.9 258.3 L483.0 267.4 L455.8 271.3 L442.7 250.0 L405.8 266.3 L369.6 286.0 L377.3 305.8 L351.0 328.7 L312.6 369.9 L306.0 362.7 L279.9 288.0 L294.0 270.7 L325.8 245.5 L324.7 210.5 L306.0 170.0 L286.0 134.2 L270.0 135.8 L245.0 136.0 L233.0 109.5Z" fill="none" stroke="#000" stroke-width="4.7" stroke-linejoin="round" clip-path="url(#pclip)"/><rect x="54.9" y="0.6" width="627.5" height="370.6" fill="none" stroke="#555" stroke-width="1.3"/><line x1="51.3" x2="54.7" y1="43.0" y2="43.0" stroke="#4a4a4a" stroke-width="1"/><text x="47.9" y="47.2" text-anchor="end" class="ax">33.724°N</text><line x1="51.3" x2="54.7" y1="97.0" y2="97.0" stroke="#4a4a4a" stroke-width="1"/><text x="47.9" y="101.2" text-anchor="end" class="ax">33.723°N</text><line x1="51.3" x2="54.7" y1="151.1" y2="151.1" stroke="#4a4a4a" stroke-width="1"/><text x="47.9" y="155.3" text-anchor="end" class="ax">33.722°N</text><line x1="51.3" x2="54.7" y1="205.1" y2="205.1" stroke="#4a4a4a" stroke-width="1"/><text x="47.9" y="209.3" text-anchor="end" class="ax">33.721°N</text><line x1="51.3" x2="54.7" y1="259.2" y2="259.2" stroke="#4a4a4a" stroke-width="1"/><text x="47.9" y="263.4" text-anchor="end" class="ax">33.720°N</text><line x1="51.3" x2="54.7" y1="313.2" y2="313.2" stroke="#4a4a4a" stroke-width="1"/><text x="47.9" y="317.4" text-anchor="end" class="ax">33.719°N</text><line x1="51.3" x2="54.7" y1="367.3" y2="367.3" stroke="#4a4a4a" stroke-width="1"/><text x="47.9" y="371.5" text-anchor="end" class="ax">33.718°N</text><line x1="144.6" x2="144.6" y1="371.2" y2="374.6" stroke="#4a4a4a" stroke-width="1"/><text x="144.6" y="387.4" text-anchor="middle" class="ax">75.090°E</text><line x1="235.1" x2="235.1" y1="371.2" y2="374.6" stroke="#4a4a4a" stroke-width="1"/><text x="235.1" y="387.4" text-anchor="middle" class="ax">75.092°E</text><line x1="325.5" x2="325.5" y1="371.2" y2="374.6" stroke="#4a4a4a" stroke-width="1"/><text x="325.5" y="387.4" text-anchor="middle" class="ax">75.094°E</text><line x1="416.0" x2="416.0" y1="371.2" y2="374.6" stroke="#4a4a4a" stroke-width="1"/><text x="416.0" y="387.4" text-anchor="middle" class="ax">75.096°E</text><line x1="506.4" x2="506.4" y1="371.2" y2="374.6" stroke="#4a4a4a" stroke-width="1"/><text x="506.4" y="387.4" text-anchor="middle" class="ax">75.098°E</text><line x1="596.9" x2="596.9" y1="371.2" y2="374.6" stroke="#4a4a4a" stroke-width="1"/><text x="596.9" y="387.4" text-anchor="middle" class="ax">75.100°E</text><text x="66.2" y="30.6" class="tt">Ca</text><text x="102.7" y="51.3" text-anchor="middle" class="nn">N</text><path d="M102.70 81.50 L102.70 54.50 L106.90 77.30 Z" fill="#000" stroke="#000" stroke-width="1.0" stroke-linejoin="miter"/><path d="M102.70 81.50 L102.70 54.50 L98.50 77.30 Z" fill="#fff" stroke="#000" stroke-width="1.0" stroke-linejoin="miter"/><path d="M102.70 81.50 L129.70 81.50 L106.90 85.70 Z" fill="#000" stroke="#000" stroke-width="1.0" stroke-linejoin="miter"/><path d="M102.70 81.50 L129.70 81.50 L106.90 77.30 Z" fill="#fff" stroke="#000" stroke-width="1.0" stroke-linejoin="miter"/><path d="M102.70 81.50 L102.70 108.50 L98.50 85.70 Z" fill="#000" stroke="#000" stroke-width="1.0" stroke-linejoin="miter"/><path d="M102.70 81.50 L102.70 108.50 L106.90 85.70 Z" fill="#fff" stroke="#000" stroke-width="1.0" stroke-linejoin="miter"/><path d="M102.70 81.50 L75.70 81.50 L98.50 77.30 Z" fill="#000" stroke="#000" stroke-width="1.0" stroke-linejoin="miter"/><path d="M102.70 81.50 L75.70 81.50 L98.50 85.70 Z" fill="#fff" stroke="#000" stroke-width="1.0" stroke-linejoin="miter"/><rect x="78.5" y="325.8" width="49" height="7.8" fill="#fff" stroke="#000" stroke-width="1"/><rect x="127.5" y="325.8" width="49" height="7.8" fill="#000" stroke="#000" stroke-width="1"/><text x="78.5" y="348.6" text-anchor="middle" class="sb">0.0</text><text x="127.2" y="348.6" text-anchor="middle" class="sb">0.1</text><text x="166.8" y="348.6" class="sb">0.2 km</text><text x="587.4" y="27" class="lt">Ca</text><rect x="588.0" y="32.90" width="11.6" height="11.4" fill="#F2F0F7"/><text x="602.2" y="41.90" class="ll">7.64 to 8.18</text><rect x="588.0" y="44.16" width="11.6" height="11.4" fill="#DDDCEC"/><text x="602.2" y="53.16" class="ll">8.18 to 8.43</text><rect x="588.0" y="55.42" width="11.6" height="11.4" fill="#C3C3E0"/><text x="602.2" y="64.42" class="ll">8.43 to 8.74</text><rect x="588.0" y="66.68" width="11.6" height="11.4" fill="#A9A5CF"/><text x="602.2" y="75.68" class="ll">8.74 to 8.99</text><rect x="588.0" y="77.94" width="11.6" height="11.4" fill="#8F89C1"/><text x="602.2" y="86.94" class="ll">8.99 to 9.29</text><rect x="588.0" y="89.20" width="11.6" height="11.4" fill="#7A6DB3"/><text x="602.2" y="98.20" class="ll">9.29 to 9.50</text><rect x="588.0" y="100.46" width="11.6" height="11.4" fill="#66479F"/><text x="602.2" y="109.46" class="ll">9.50 to 11.39</text><rect x="588.0" y="111.72" width="11.6" height="11.4" fill="#4A1486"/><text x="602.2" y="120.72" class="ll">11.39 to 12.19</text><text x="331.2" y="453.6" class="cap">(K)</text></g>
<g transform="translate(0,1013.2)"><g clip-path="url(#clip)"><path d="M150 -20H560V400H150Z" fill="#78787D"/><path d="M252.0 142.0 C252.0 140.3 253.7 137.4 252.0 133.0 C250.3 128.6 244.3 123.7 243.0 118.0 C241.7 112.3 243.0 107.1 245.0 102.0 C247.0 96.9 249.1 94.0 254.0 90.0 C258.9 86.0 265.0 82.4 272.0 80.0 C279.0 77.6 285.4 77.0 292.0 77.0 C298.6 77.0 302.1 78.7 308.0 80.0 C313.9 81.3 318.1 82.3 324.0 84.0 C329.9 85.7 335.2 86.8 340.0 89.0 C344.8 91.2 346.9 95.5 350.0 96.0 C353.1 96.5 355.2 92.4 357.0 92.0 C358.8 91.6 358.3 96.5 360.0 94.0 C361.7 91.5 365.8 84.3 366.5 78.5 C367.2 72.7 364.5 67.5 364.0 62.3 C363.5 57.1 364.0 52.3 364.0 50.0 L215.0 50.0 L215.0 142.0Z" fill="#C4635D"/><path d="M284.4 125.0 L280.5 133.0 L286.5 133.0Z" fill="#C4635D"/><path d="M318.0 200.0 C318.6 197.7 321.0 192.4 321.3 187.6 C321.6 182.8 320.8 178.7 319.5 173.6 C318.2 168.5 316.9 164.1 314.3 159.6 C311.7 155.1 307.6 152.2 305.5 149.0 C303.4 145.8 301.6 145.5 302.9 142.0 C304.2 138.5 308.5 134.6 312.5 129.8 C316.5 125.0 319.7 119.5 324.8 115.8 C329.9 112.1 335.7 110.1 340.5 109.6 C345.3 109.1 347.5 110.3 351.0 113.0 C354.5 115.7 356.3 120.5 359.8 124.5 C363.3 128.5 365.8 131.2 370.3 135.0 C374.8 138.8 380.0 142.3 384.3 145.5 C388.6 148.7 392.1 149.4 394.0 152.6 C395.9 155.8 394.7 159.4 394.5 163.0 C394.3 166.6 393.9 169.1 392.7 172.0 C391.5 174.9 391.3 177.0 388.2 178.8 C385.1 180.6 379.5 179.5 376.0 182.0 C372.5 184.5 370.5 189.2 369.0 192.4 C367.5 195.6 368.2 195.2 367.7 199.5 C367.2 203.8 365.2 209.9 366.5 216.0 C367.8 222.1 372.2 226.7 374.8 232.8 C377.4 238.9 379.3 244.1 380.8 249.5 C382.3 254.9 382.2 256.4 383.0 262.0 C383.8 267.6 384.6 276.7 385.0 280.0 L385.0 400.0 L200.0 400.0 L200.0 200.0Z" fill="#C4635D"/><path d="M530.0 140.0 C524.9 141.4 509.3 144.8 502.0 147.5 C494.7 150.2 495.7 151.2 490.0 154.7 C484.3 158.2 478.0 162.2 471.0 166.6 C464.0 171.0 459.8 175.8 452.0 178.5 C444.2 181.2 434.9 179.9 428.4 181.6 C421.9 183.3 420.0 184.3 416.5 187.6 C413.0 190.9 410.9 194.3 409.3 199.5 C407.7 204.7 406.7 209.5 408.0 216.0 C409.3 222.5 413.6 228.4 416.5 235.0 C419.4 241.6 421.9 245.8 423.6 251.8 C425.3 257.9 425.6 265.0 426.0 268.0 L426.0 300.0 L530.0 300.0Z" fill="#C4635D"/><path d="M220.0 86.0 C222.0 85.3 227.3 83.7 231.0 82.0 C234.7 80.3 234.7 78.3 240.0 77.0 C245.3 75.7 251.2 75.5 260.0 75.0 C268.8 74.5 279.9 73.8 288.0 74.0 C296.1 74.2 298.9 74.9 304.0 76.0 C309.1 77.1 310.9 78.9 316.0 80.0 C321.1 81.1 326.1 81.3 332.0 82.0 C337.9 82.7 343.6 83.9 348.0 84.0 C352.4 84.1 353.6 83.6 356.0 82.5 C358.4 81.4 359.9 81.4 361.0 78.0 C362.1 74.6 361.8 69.1 362.0 64.0 C362.2 58.9 362.0 52.6 362.0 50.0 L220.0 50.0Z" fill="#FFA40F"/><path d="M321.0 206.0 C322.2 203.2 325.9 196.3 327.4 191.0 C328.9 185.7 329.5 181.5 329.2 177.0 C328.9 172.5 327.5 170.4 325.7 166.6 C323.9 162.8 322.1 159.9 319.5 156.0 C316.9 152.1 311.9 149.7 311.6 145.5 C311.3 141.3 314.9 138.1 317.8 133.3 C320.7 128.5 323.5 121.7 327.4 119.3 C331.2 116.9 335.1 119.4 338.8 120.0 C342.5 120.6 344.4 120.7 347.6 122.8 C350.8 124.9 353.1 127.6 356.3 131.5 C359.5 135.3 362.4 139.9 365.0 143.8 C367.6 147.7 369.6 149.4 370.3 152.6 C371.0 155.8 370.5 158.4 368.6 161.3 C366.7 164.2 362.1 166.4 359.8 168.3 C357.5 170.2 356.3 169.2 356.3 171.8 C356.3 174.4 358.8 177.5 359.8 182.3 C360.8 187.1 360.6 192.6 361.6 198.0 C362.6 203.4 363.4 206.9 365.0 212.0 C366.6 217.1 368.7 221.2 370.3 226.0 C371.9 230.8 372.5 232.2 374.0 238.0 C375.5 243.8 377.4 251.2 378.4 257.6 C379.4 264.0 379.0 267.1 379.5 273.0 C380.0 278.9 380.7 286.9 381.0 290.0 L381.0 400.0 L200.0 400.0 L200.0 206.0Z" fill="#FFA40F"/><path d="M530.0 170.0 C525.1 170.4 510.6 171.3 503.3 172.0 C496.0 172.7 495.0 173.0 490.0 173.7 C485.0 174.4 483.0 174.5 476.0 175.7 C469.0 176.9 459.4 179.0 452.0 180.5 C444.6 182.0 440.7 181.9 435.5 184.0 C430.3 186.1 427.1 188.3 423.6 192.0 C420.1 195.7 417.8 199.6 416.5 204.0 C415.2 208.4 414.8 210.3 416.5 216.0 C418.2 221.7 423.0 228.9 426.0 235.0 C429.0 241.1 431.2 244.2 433.0 249.5 C434.8 254.8 435.4 261.3 436.0 264.0 L436.0 300.0 L530.0 300.0Z" fill="#FFA40F"/><path d="M279.0 64.0 C276.8 65.1 281.5 68.6 283.0 70.0 C284.5 71.4 285.5 71.5 287.0 71.5 C288.5 71.5 289.5 71.4 291.0 70.0 C292.5 68.6 297.2 65.1 295.0 64.0 C292.8 62.9 281.2 62.9 279.0 64.0Z" fill="#F2E731"/><path d="M333.0 62.0 C331.0 64.7 336.2 67.8 339.0 69.5 C341.8 71.2 345.2 71.4 348.0 71.5 C350.8 71.6 352.2 71.6 354.0 70.0 C355.8 68.4 358.7 65.8 358.0 63.0 C357.3 60.2 354.6 55.2 350.0 55.0 C345.4 54.8 335.0 59.3 333.0 62.0Z" fill="#F2E731"/><path d="M323.0 210.0 C324.1 207.8 327.6 202.1 329.2 198.0 C330.8 193.9 331.2 191.4 331.8 187.6 C332.4 183.8 332.9 180.5 332.7 177.0 C332.5 173.5 332.2 171.8 330.9 168.3 C329.6 164.8 328.1 161.7 325.7 157.8 C323.3 154.0 318.1 150.8 317.8 147.3 C317.5 143.8 321.7 141.4 323.9 138.5 C326.1 135.6 327.4 133.1 330.0 131.5 C332.6 129.9 334.7 129.2 337.9 129.8 C341.1 130.4 344.5 132.4 347.6 135.0 C350.7 137.6 352.8 140.9 354.6 143.8 C356.4 146.7 357.2 147.9 357.2 150.8 C357.2 153.7 355.9 156.4 354.6 159.6 C353.3 162.8 351.3 165.4 350.2 168.3 C349.1 171.2 348.3 172.1 348.4 175.3 C348.5 178.5 350.0 181.6 351.0 185.8 C352.0 190.0 352.4 193.2 353.7 198.0 C355.0 202.8 356.2 206.9 358.0 212.0 C359.8 217.1 361.4 221.3 363.3 226.0 C365.2 230.7 366.7 232.1 368.5 237.9 C370.3 243.7 372.1 250.8 372.9 257.6 C373.7 264.4 373.2 268.3 372.9 275.0 C372.6 281.7 371.3 290.5 371.0 294.0 L371.0 400.0 L200.0 400.0 L200.0 210.0Z" fill="#F2E731"/><path d="M466.0 300.0 C465.6 294.0 465.2 274.4 464.0 267.3 C462.8 260.2 462.1 265.1 459.3 261.4 C456.5 257.7 451.4 251.8 448.6 247.0 C445.8 242.2 445.4 239.3 443.9 235.0 C442.4 230.7 442.7 227.2 440.3 223.3 C437.9 219.5 433.2 216.4 431.0 214.0 C428.8 211.6 428.0 212.7 428.4 210.0 C428.8 207.3 431.2 203.3 433.0 199.5 C434.8 195.7 436.7 191.4 438.0 189.0 C439.3 186.6 439.0 186.4 440.3 186.2 C441.6 186.0 440.7 186.0 445.0 188.0 C449.3 190.0 456.1 193.8 464.0 197.0 C471.9 200.2 480.4 203.2 488.0 205.4 C495.6 207.6 498.0 207.8 505.7 209.0 C513.4 210.2 525.5 211.4 530.0 212.0 L530.0 300.0Z" fill="#F2E731"/><path d="M330.9 145.5 C330.9 143.1 331.6 140.8 332.7 139.4 C333.8 138.0 334.7 137.0 337.0 137.7 C339.3 138.4 342.5 140.6 345.0 143.0 C347.5 145.4 350.4 147.8 350.7 150.8 C351.0 153.8 348.4 157.0 346.7 159.6 C345.0 162.2 343.3 164.7 341.4 164.8 C339.5 164.9 337.8 162.6 336.2 160.4 C334.6 158.2 333.7 155.3 332.7 152.6 C331.7 149.9 330.9 147.9 330.9 145.5Z" fill="#A65628"/><path d="M322.0 214.0 C323.3 212.9 326.9 210.8 329.0 208.0 C331.1 205.2 332.3 202.1 333.5 198.5 C334.7 194.9 335.0 191.0 335.7 188.5 C336.4 186.0 336.7 185.6 337.5 184.8 C338.3 184.0 338.9 183.7 340.0 184.0 C341.1 184.3 342.1 183.8 343.5 186.5 C344.9 189.2 346.4 193.8 347.8 198.5 C349.2 203.2 349.5 207.3 351.0 212.0 C352.5 216.7 353.6 218.9 356.0 224.0 C358.4 229.1 361.7 233.8 364.0 240.0 C366.3 246.2 367.7 251.6 368.5 257.6 C369.3 263.7 369.3 268.2 368.5 273.0 C367.7 277.8 366.8 280.3 364.0 283.9 C361.2 287.5 358.4 289.4 353.2 292.6 C348.0 295.8 342.2 298.6 335.7 301.4 C329.2 304.2 324.0 306.4 318.0 308.0 C312.0 309.6 307.4 308.6 302.8 310.0 C298.2 311.4 296.4 313.8 293.0 315.6 C289.6 317.4 285.6 319.2 284.0 320.0 L200.0 320.0 L200.0 214.0Z" fill="#A65628"/><path d="M290.0 339.0 C291.8 339.3 296.0 340.1 299.6 340.8 C303.2 341.5 305.6 341.8 309.4 343.0 C313.2 344.2 317.1 345.8 320.4 347.4 C323.7 349.0 324.5 349.8 327.4 351.7 C330.3 353.6 334.4 356.8 336.0 358.0 L336.0 400.0 L200.0 400.0 L200.0 339.0Z" fill="#A65628"/><path d="M471.2 239.6 C470.9 240.5 470.3 241.2 469.4 241.8 C468.4 242.3 467.4 242.6 466.0 242.6 C464.7 242.7 463.5 242.5 462.2 242.0 C460.9 241.5 459.8 240.9 458.8 240.0 C457.8 239.1 457.2 238.2 456.8 237.2 C456.5 236.2 456.4 235.3 456.8 234.4 C457.1 233.5 457.7 232.8 458.6 232.2 C459.6 231.7 460.6 231.4 462.0 231.4 C463.3 231.3 464.5 231.5 465.8 232.0 C467.1 232.5 468.2 233.1 469.2 234.0 C470.2 234.9 470.8 235.8 471.2 236.8 C471.5 237.8 471.6 238.7 471.2 239.6Z" fill="#A65628"/><path d="M378.0 288.0 C376.1 288.2 371.1 287.8 367.4 289.3 C363.7 290.8 362.6 293.4 357.6 296.0 C352.6 298.6 346.4 300.9 340.0 303.6 C333.6 306.4 328.2 308.8 322.6 311.0 C317.0 313.2 313.0 313.8 309.4 315.6 C305.8 317.4 304.4 319.1 302.8 321.0 C301.2 322.9 300.6 324.2 300.6 326.0 C300.6 327.8 301.2 329.1 302.8 331.0 C304.4 332.9 305.8 334.6 309.4 336.4 C313.0 338.2 318.4 339.4 322.6 340.8 C326.8 342.2 329.2 342.7 332.4 344.0 C335.6 345.3 338.6 347.3 340.0 348.0 L390.0 320.0Z" fill="#FFA40F"/><path d="M380.0 299.0 C378.5 299.4 375.9 300.2 371.8 301.4 C367.7 302.6 363.0 304.2 357.6 305.8 C352.2 307.4 347.9 308.0 342.3 310.0 C336.7 312.0 331.8 314.7 327.0 316.7 C322.2 318.7 319.0 319.2 316.0 321.0 C313.0 322.8 311.1 324.6 310.5 326.6 C309.9 328.6 310.5 330.4 312.7 332.0 C314.9 333.6 318.8 334.5 322.6 335.3 C326.4 336.1 330.3 336.6 333.5 336.4 C336.7 336.2 337.5 333.7 340.0 334.2 C342.5 334.7 345.7 338.1 347.0 339.0 L390.0 320.0Z" fill="#C4635D"/><path d="M368.0 316.0 C366.9 315.5 364.9 314.7 362.0 313.4 C359.1 312.1 355.6 309.0 352.0 309.0 C348.4 309.0 346.1 311.4 342.3 313.4 C338.5 315.4 335.3 318.2 331.3 320.0 C327.3 321.8 323.8 322.1 320.4 323.3 C317.0 324.5 314.3 325.2 312.7 326.6 C311.1 328.0 310.8 329.7 311.6 331.0 C312.4 332.3 314.2 333.8 317.0 333.8 C319.8 333.8 323.2 331.5 327.0 331.0 C330.8 330.5 334.4 331.0 337.9 331.0 C341.4 331.0 343.4 331.0 346.0 331.0 C348.6 331.0 350.9 331.0 352.0 331.0Z" fill="#78787D"/><path d="M316.0 331.0 C316.0 331.3 315.9 331.5 315.8 331.8 C315.7 332.0 315.5 332.2 315.2 332.3 C315.0 332.4 314.8 332.5 314.5 332.5 C314.2 332.5 314.0 332.4 313.8 332.3 C313.5 332.2 313.3 332.0 313.2 331.8 C313.1 331.5 313.0 331.3 313.0 331.0 C313.0 330.7 313.1 330.5 313.2 330.2 C313.3 330.0 313.5 329.8 313.8 329.7 C314.0 329.6 314.2 329.5 314.5 329.5 C314.8 329.5 315.0 329.6 315.2 329.7 C315.5 329.8 315.7 330.0 315.8 330.2 C315.9 330.5 316.0 330.7 316.0 331.0Z" fill="#47A169"/><path d="M256.4 106.0 C255.7 102.0 257.1 97.8 260.0 94.0 C262.9 90.2 266.9 87.4 272.0 85.0 C277.1 82.6 282.1 81.5 288.0 81.0 C293.9 80.5 298.9 80.9 304.0 82.0 C309.1 83.1 311.6 85.5 316.0 87.0 C320.4 88.5 324.8 88.2 328.0 90.0 C331.2 91.8 333.6 94.1 333.6 97.0 C333.6 99.9 330.9 102.5 328.0 106.0 C325.1 109.5 320.8 112.3 318.0 116.0 C315.2 119.7 315.6 123.2 313.0 126.0 C310.4 128.8 307.5 130.8 304.0 131.0 C300.5 131.2 298.4 129.0 294.0 127.0 C289.6 125.0 285.5 122.0 280.0 120.0 C274.5 118.0 268.3 118.6 264.0 116.0 C259.7 113.4 257.1 110.0 256.4 106.0Z" fill="#47A169"/><path d="M266.4 103.0 C266.8 99.3 268.8 95.1 272.0 92.0 C275.2 88.9 278.9 87.3 284.0 86.0 C289.1 84.7 294.9 83.9 300.0 85.0 C305.1 86.1 308.8 88.7 312.0 92.0 C315.2 95.3 317.0 99.0 317.4 103.0 C317.8 107.0 316.1 110.7 314.0 114.0 C311.9 117.3 308.9 119.5 306.0 121.0 C303.1 122.5 302.0 123.0 298.0 122.4 C294.0 121.9 289.1 119.9 284.0 118.0 C278.9 116.1 273.2 114.8 270.0 112.0 C266.8 109.2 266.0 106.7 266.4 103.0Z" fill="#5070A2"/><path d="M276.0 102.0 C276.4 99.4 277.8 96.2 280.0 94.0 C282.2 91.8 285.1 90.9 288.0 90.0 C290.9 89.1 293.1 87.9 296.0 89.0 C298.9 90.1 301.6 92.9 304.0 96.0 C306.4 99.1 308.6 102.9 309.0 106.0 C309.4 109.1 308.0 111.2 306.0 113.0 C304.0 114.8 301.7 115.8 298.0 115.6 C294.3 115.4 289.7 113.4 286.0 112.0 C282.3 110.6 279.8 109.8 278.0 108.0 C276.2 106.2 275.6 104.6 276.0 102.0Z" fill="#E41A1C"/><path d="M370.0 50.0 C370.0 52.0 369.8 55.8 370.0 61.0 C370.2 66.2 372.1 71.3 371.0 78.5 C369.9 85.7 365.5 93.9 364.0 100.0 C362.5 106.1 361.7 107.6 363.0 112.0 C364.3 116.4 366.4 119.7 371.0 124.0 C375.6 128.3 383.1 130.8 388.0 135.6 C392.9 140.4 394.9 145.2 397.5 150.0 C400.1 154.8 400.3 158.3 402.0 162.0 C403.7 165.7 405.1 167.6 407.0 170.0 C408.9 172.4 409.5 173.1 412.5 175.0 C415.5 176.9 418.9 179.9 423.6 180.5 C428.3 181.1 431.9 180.7 438.0 178.0 C444.1 175.3 450.0 171.2 457.0 166.0 C464.0 160.8 470.8 155.6 476.0 149.5 C481.2 143.4 482.0 139.0 485.5 133.0 C489.0 127.0 488.7 121.7 495.0 116.6 C501.3 111.5 515.4 107.1 520.0 105.0 L520.0 -20.0 L370.0 -20.0Z" fill="#47A169"/><path d="M462.0 6.0 L467.5 11.0 L473.0 15.0 L479.5 21.5 L488.0 24.0 L490.0 -8.0Z" fill="#78787D"/><path d="M374.8 48.0 C374.8 50.3 374.4 56.5 374.8 60.7 C375.2 64.9 377.0 65.6 377.0 71.0 C377.0 76.4 375.9 83.8 374.8 90.4 C373.7 97.0 370.3 101.8 371.0 107.0 C371.7 112.2 374.4 114.2 378.4 119.0 C382.4 123.8 388.8 127.8 392.7 133.0 C396.6 138.2 397.2 141.8 399.8 147.5 C402.4 153.2 403.9 159.6 407.0 164.0 C410.1 168.4 412.1 169.5 416.5 171.5 C420.9 173.5 426.1 175.3 430.8 175.0 C435.5 174.7 438.1 173.3 442.0 170.0 C445.9 166.7 448.4 162.5 452.0 157.0 C455.6 151.5 458.2 146.6 461.7 140.0 C465.2 133.4 467.9 128.0 471.0 121.0 C474.1 114.0 476.8 109.3 478.4 102.0 C480.0 94.7 480.4 88.8 479.5 81.0 C478.6 73.2 477.4 66.9 473.6 59.5 C469.8 52.1 464.2 46.6 459.0 40.5 C453.8 34.4 448.1 30.5 445.0 26.0 C441.9 21.5 442.6 17.8 442.0 16.0 L420.0 15.0 L374.8 35.0Z" fill="#5070A2"/><path d="M380.8 50.0 C380.8 52.2 380.1 57.2 380.8 62.0 C381.5 66.8 383.5 70.8 384.4 76.0 C385.3 81.2 384.1 84.7 385.6 90.4 C387.1 96.1 390.1 101.8 392.7 107.0 C395.3 112.2 397.2 112.0 399.8 119.0 C402.4 126.0 404.4 137.2 407.0 145.0 C409.6 152.8 411.4 157.7 414.0 161.8 C416.6 165.9 417.5 166.2 421.0 167.6 C424.5 169.0 429.5 170.9 433.0 169.5 C436.5 168.1 437.8 164.9 440.0 160.0 C442.2 155.1 443.9 149.7 445.0 143.0 C446.1 136.3 444.9 130.3 446.0 123.7 C447.1 117.1 449.2 112.7 451.0 107.0 C452.8 101.3 455.1 98.0 455.8 92.8 C456.5 87.6 455.9 83.1 454.6 78.5 C453.3 73.9 451.6 70.5 448.6 67.8 C445.6 65.1 441.4 64.1 438.0 64.0 C434.6 63.9 432.2 66.1 430.0 67.0 C427.8 67.9 427.6 69.9 426.0 69.0 C424.4 68.1 422.6 64.2 421.5 62.0 C420.4 59.8 419.6 59.6 420.0 57.0 C420.4 54.4 423.2 50.5 423.6 47.6 C424.0 44.7 422.9 44.6 422.4 41.0 C421.9 37.4 421.3 30.4 421.0 28.0 L400.0 28.0Z" fill="#E41A1C"/><path d="M392.0 277.0 C391.4 274.2 389.6 267.5 388.5 262.0 C387.4 256.5 387.2 252.5 385.8 247.0 C384.4 241.5 383.4 237.1 381.0 232.0 C378.6 226.9 374.4 223.2 372.5 219.0 C370.6 214.8 370.4 212.8 370.5 209.0 C370.6 205.2 371.3 201.5 373.0 198.5 C374.7 195.5 377.2 193.9 380.0 192.5 C382.8 191.1 385.2 190.5 388.0 191.0 C390.8 191.5 393.4 191.7 395.5 195.0 C397.6 198.3 398.1 203.3 399.5 209.0 C400.9 214.7 400.8 219.9 403.0 226.0 C405.2 232.1 409.3 236.8 411.5 242.0 C413.7 247.2 413.8 249.4 415.0 254.5 C416.2 259.6 417.4 267.2 418.0 270.0Z" fill="#47A169"/><path d="M389.7 211.5 C389.7 213.0 389.3 214.4 388.6 215.7 C387.8 217.0 386.8 218.0 385.4 218.8 C384.1 219.5 382.8 219.9 381.2 219.9 C379.6 219.9 378.3 219.5 376.9 218.8 C375.6 218.0 374.6 217.0 373.8 215.7 C373.1 214.4 372.7 213.0 372.7 211.5 C372.7 210.0 373.1 208.6 373.8 207.3 C374.6 206.0 375.6 205.0 376.9 204.2 C378.3 203.5 379.6 203.1 381.2 203.1 C382.8 203.1 384.1 203.5 385.4 204.2 C386.8 205.0 387.8 206.0 388.6 207.3 C389.3 208.6 389.7 210.0 389.7 211.5Z" fill="#5070A2"/><path d="M407.1 252.0 C407.1 254.0 406.7 255.8 406.0 257.5 C405.2 259.2 404.2 260.5 402.9 261.5 C401.5 262.5 400.2 263.0 398.6 263.0 C397.0 263.0 395.7 262.5 394.4 261.5 C393.0 260.5 392.0 259.2 391.2 257.5 C390.5 255.8 390.1 254.0 390.1 252.0 C390.1 250.0 390.5 248.2 391.2 246.5 C392.0 244.8 393.0 243.5 394.4 242.5 C395.7 241.5 397.0 241.0 398.6 241.0 C400.2 241.0 401.5 241.5 402.9 242.5 C404.2 243.5 405.2 244.8 406.0 246.5 C406.7 248.2 407.1 250.0 407.1 252.0Z" fill="#5070A2"/><path d="M296.0 154.0 C297.1 155.0 299.3 158.7 302.0 159.6 C304.7 160.5 308.4 157.4 310.8 158.7 C313.2 160.0 314.0 162.9 315.1 166.6 C316.2 170.3 317.0 175.2 316.9 178.8 C316.8 182.4 315.6 183.6 314.3 186.0 C313.0 188.4 310.8 190.9 310.0 192.0 L296.0 192.0Z" fill="#47A169"/></g><path d="M227.2 66.4 L334.0 65.6 L374.0 60.0 L421.0 38.0 L478.0 2.4 L490.4 76.0 L499.0 112.5 L503.6 147.6 L509.3 207.0 L511.9 258.3 L483.0 267.4 L455.8 271.3 L442.7 250.0 L405.8 266.3 L369.6 286.0 L377.3 305.8 L351.0 328.7 L312.6 369.9 L306.0 362.7 L279.9 288.0 L294.0 270.7 L325.8 245.5 L324.7 210.5 L306.0 170.0 L286.0 134.2 L270.0 135.8 L245.0 136.0 L233.0 109.5Z" fill="none" stroke="#000" stroke-width="4.7" stroke-linejoin="round" clip-path="url(#pclip)"/><rect x="54.9" y="0.6" width="627.5" height="370.6" fill="none" stroke="#555" stroke-width="1.3"/><line x1="51.3" x2="54.7" y1="43.0" y2="43.0" stroke="#4a4a4a" stroke-width="1"/><text x="47.9" y="47.2" text-anchor="end" class="ax">33.724°N</text><line x1="51.3" x2="54.7" y1="97.0" y2="97.0" stroke="#4a4a4a" stroke-width="1"/><text x="47.9" y="101.2" text-anchor="end" class="ax">33.723°N</text><line x1="51.3" x2="54.7" y1="151.1" y2="151.1" stroke="#4a4a4a" stroke-width="1"/><text x="47.9" y="155.3" text-anchor="end" class="ax">33.722°N</text><line x1="51.3" x2="54.7" y1="205.1" y2="205.1" stroke="#4a4a4a" stroke-width="1"/><text x="47.9" y="209.3" text-anchor="end" class="ax">33.721°N</text><line x1="51.3" x2="54.7" y1="259.2" y2="259.2" stroke="#4a4a4a" stroke-width="1"/><text x="47.9" y="263.4" text-anchor="end" class="ax">33.720°N</text><line x1="51.3" x2="54.7" y1="313.2" y2="313.2" stroke="#4a4a4a" stroke-width="1"/><text x="47.9" y="317.4" text-anchor="end" class="ax">33.719°N</text><line x1="51.3" x2="54.7" y1="367.3" y2="367.3" stroke="#4a4a4a" stroke-width="1"/><text x="47.9" y="371.5" text-anchor="end" class="ax">33.718°N</text><line x1="144.6" x2="144.6" y1="371.2" y2="374.6" stroke="#4a4a4a" stroke-width="1"/><text x="144.6" y="387.4" text-anchor="middle" class="ax">75.090°E</text><line x1="235.1" x2="235.1" y1="371.2" y2="374.6" stroke="#4a4a4a" stroke-width="1"/><text x="235.1" y="387.4" text-anchor="middle" class="ax">75.092°E</text><line x1="325.5" x2="325.5" y1="371.2" y2="374.6" stroke="#4a4a4a" stroke-width="1"/><text x="325.5" y="387.4" text-anchor="middle" class="ax">75.094°E</text><line x1="416.0" x2="416.0" y1="371.2" y2="374.6" stroke="#4a4a4a" stroke-width="1"/><text x="416.0" y="387.4" text-anchor="middle" class="ax">75.096°E</text><line x1="506.4" x2="506.4" y1="371.2" y2="374.6" stroke="#4a4a4a" stroke-width="1"/><text x="506.4" y="387.4" text-anchor="middle" class="ax">75.098°E</text><line x1="596.9" x2="596.9" y1="371.2" y2="374.6" stroke="#4a4a4a" stroke-width="1"/><text x="596.9" y="387.4" text-anchor="middle" class="ax">75.100°E</text><text x="66.2" y="30.6" class="tt">Mg</text><text x="102.7" y="51.3" text-anchor="middle" class="nn">N</text><path d="M102.70 81.50 L102.70 54.50 L106.90 77.30 Z" fill="#000" stroke="#000" stroke-width="1.0" stroke-linejoin="miter"/><path d="M102.70 81.50 L102.70 54.50 L98.50 77.30 Z" fill="#fff" stroke="#000" stroke-width="1.0" stroke-linejoin="miter"/><path d="M102.70 81.50 L129.70 81.50 L106.90 85.70 Z" fill="#000" stroke="#000" stroke-width="1.0" stroke-linejoin="miter"/><path d="M102.70 81.50 L129.70 81.50 L106.90 77.30 Z" fill="#fff" stroke="#000" stroke-width="1.0" stroke-linejoin="miter"/><path d="M102.70 81.50 L102.70 108.50 L98.50 85.70 Z" fill="#000" stroke="#000" stroke-width="1.0" stroke-linejoin="miter"/><path d="M102.70 81.50 L102.70 108.50 L106.90 85.70 Z" fill="#fff" stroke="#000" stroke-width="1.0" stroke-linejoin="miter"/><path d="M102.70 81.50 L75.70 81.50 L98.50 77.30 Z" fill="#000" stroke="#000" stroke-width="1.0" stroke-linejoin="miter"/><path d="M102.70 81.50 L75.70 81.50 L98.50 85.70 Z" fill="#fff" stroke="#000" stroke-width="1.0" stroke-linejoin="miter"/><rect x="78.5" y="325.8" width="49" height="7.8" fill="#fff" stroke="#000" stroke-width="1"/><rect x="127.5" y="325.8" width="49" height="7.8" fill="#000" stroke="#000" stroke-width="1"/><text x="78.5" y="348.6" text-anchor="middle" class="sb">0.0</text><text x="127.2" y="348.6" text-anchor="middle" class="sb">0.1</text><text x="166.8" y="348.6" class="sb">0.2 km</text><text x="587.4" y="27" class="lt">Mg</text><rect x="588.0" y="32.90" width="11.6" height="11.4" fill="#E41A1C"/><text x="602.2" y="41.90" class="ll">2.110 to 2.338</text><rect x="588.0" y="44.16" width="11.6" height="11.4" fill="#5070A2"/><text x="602.2" y="53.16" class="ll">2.338 to 2.495</text><rect x="588.0" y="55.42" width="11.6" height="11.4" fill="#47A169"/><text x="602.2" y="64.42" class="ll">2.495 to 2.610</text><rect x="588.0" y="66.68" width="11.6" height="11.4" fill="#78787D"/><text x="602.2" y="75.68" class="ll">2.610 to 2.710</text><rect x="588.0" y="77.94" width="11.6" height="11.4" fill="#C4635D"/><text x="602.2" y="86.94" class="ll">2.710 to 2.838</text><rect x="588.0" y="89.20" width="11.6" height="11.4" fill="#FFA40F"/><text x="602.2" y="98.20" class="ll">2.838 to 2.983</text><rect x="588.0" y="100.46" width="11.6" height="11.4" fill="#F2E731"/><text x="602.2" y="109.46" class="ll">2.983 to 3.085</text><rect x="588.0" y="111.72" width="11.6" height="11.4" fill="#A65628"/><text x="602.2" y="120.72" class="ll">3.085 to 3.713</text><text x="331.6" y="453.6" class="cap">(L)</text></g>
</svg></body></html>
